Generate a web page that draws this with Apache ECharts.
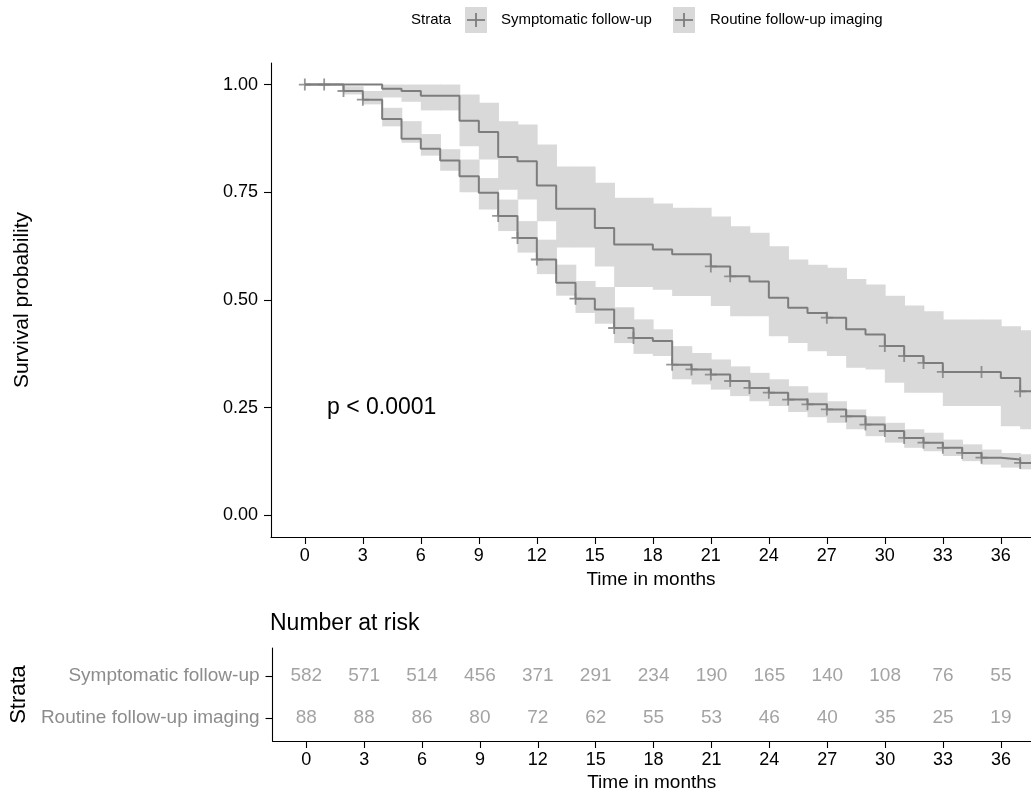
<!DOCTYPE html>
<html>
<head>
<meta charset="utf-8">
<script src="https://cdn.jsdelivr.net/npm/echarts@6/dist/echarts.min.js"></script>
<style>
html,body{margin:0;padding:0;background:#fff;}
#chart{width:1031px;height:801px;}
</style>
</head>
<body>
<div id="chart"></div>
<script>
// ---------------- data ----------------
const months = [0,1,2,3,4,5,6,7,8,9,10,11,12,13,14,15,16,17,18,19,20,21,22,23,24,25,26,27,28,29,30,31,32,33,34,35,36,37];
const followUpEnd = 38;

const survSymptomatic = [1.000,1.000,0.985,0.965,0.920,0.874,0.851,0.824,0.787,0.749,0.695,0.644,0.594,0.540,0.503,0.478,0.435,0.412,0.405,0.350,0.339,0.327,0.312,0.296,0.285,0.269,0.258,0.246,0.230,0.211,0.196,0.180,0.169,0.157,0.145,0.134,0.130,0.122];
const lowSymptomatic  = [1.000,1.000,0.977,0.954,0.903,0.865,0.835,0.800,0.750,0.710,0.660,0.610,0.560,0.510,0.470,0.445,0.400,0.375,0.370,0.316,0.304,0.292,0.277,0.265,0.254,0.240,0.228,0.215,0.200,0.184,0.169,0.157,0.149,0.138,0.126,0.118,0.111,0.107];
const highSymptomatic = [1.000,1.000,0.996,0.985,0.946,0.915,0.885,0.850,0.826,0.783,0.733,0.683,0.640,0.582,0.544,0.530,0.483,0.455,0.432,0.393,0.377,0.362,0.346,0.331,0.316,0.300,0.285,0.265,0.246,0.230,0.215,0.200,0.192,0.176,0.165,0.153,0.145,0.142];

const survRoutine = [1.000,1.000,1.000,1.000,0.990,0.985,0.974,0.974,0.916,0.890,0.832,0.822,0.766,0.712,0.712,0.667,0.629,0.629,0.617,0.606,0.606,0.578,0.555,0.543,0.505,0.482,0.470,0.459,0.432,0.420,0.393,0.370,0.354,0.333,0.333,0.333,0.319,0.288];
const lowRoutine  = [1.000,1.000,1.000,1.000,0.970,0.960,0.940,0.940,0.857,0.826,0.756,0.733,0.683,0.622,0.622,0.578,0.530,0.530,0.524,0.509,0.509,0.486,0.462,0.462,0.416,0.400,0.381,0.370,0.343,0.339,0.308,0.285,0.285,0.254,0.254,0.254,0.207,0.200];
const highRoutine = [1.000,1.000,1.000,1.000,1.000,1.000,1.000,1.000,0.977,0.958,0.915,0.907,0.861,0.810,0.810,0.772,0.737,0.737,0.724,0.714,0.714,0.694,0.671,0.656,0.625,0.594,0.582,0.575,0.549,0.536,0.510,0.487,0.474,0.455,0.455,0.455,0.439,0.430];

const censorSymptomatic = [1,2,3,10,11,12,14,16,17,19,20,21,22,23,24,25,26,27,28,29,30,31,32,33,34,35,37];
const censorRoutine = [0,21,22,27,30,31,32,33,35,37];

const strataNames = ['Symptomatic follow-up','Routine follow-up imaging'];
const riskTimes = [0,3,6,9,12,15,18,21,24,27,30,33,36];
const riskSymptomatic = [582,571,514,456,371,291,234,190,165,140,108,76,55];
const riskRoutine = [88,88,86,80,72,62,55,53,46,40,35,25,19];

const xTicks = [0,3,6,9,12,15,18,21,24,27,30,33,36];
const yTicks = [0,0.25,0.5,0.75,1];
const pText = 'p < 0.0001';

// ---------------- helpers ----------------
const FONT = 'Liberation Sans, Arial, Helvetica, sans-serif';
const LINE = '#7d7d7d';
const BAND = '#d9d9d9';
const PLUS = 'path://M0,5.1h12v1.8h-12z M5.1,0h1.8v12h-1.8z';

function stepData(surv){
  const d = months.map((t,i)=>[t, surv[i]]);
  d.push([followUpEnd, surv[surv.length-1]]);
  return d;
}
function bandData(lo, hi){
  const d = [];
  for (let i=0;i<months.length;i++){
    const t1 = i+1<months.length ? months[i+1] : followUpEnd;
    if (hi[i] > lo[i]) d.push([months[i], t1, lo[i], hi[i]]);
  }
  return d;
}
function censorData(times, surv){
  return times.map(t => [t, surv[months.indexOf(t)]]);
}
function renderBand(params, api){
  const p1 = api.coord([api.value(0), api.value(3)]);
  const p2 = api.coord([api.value(1), api.value(2)]);
  const rect = echarts.graphic.clipRectByRect(
    {x:p1[0], y:p1[1], width:p2[0]-p1[0]+0.8, height:p2[1]-p1[1]},
    {x:params.coordSys.x, y:params.coordSys.y, width:params.coordSys.width, height:params.coordSys.height});
  return rect && {type:'rect', shape:rect, style:{fill:BAND}};
}

const xMin = -1.75, xMax = 37.56;

const chart = echarts.init(document.getElementById('chart'), null, {renderer:'canvas'});
const axisLineStyle = {color:'#000', width:1.1};

function xAxisDef(idx){
  return {gridIndex:idx, type:'value', min:xMin, max:xMax,
    axisLine:{show:true, onZero:false, lineStyle:axisLineStyle}, splitLine:{show:false},
    axisTick:{show:true, customValues:xTicks, length:7, lineStyle:axisLineStyle},
    axisLabel:{customValues:xTicks, color:'#000', fontSize:18, margin:10, fontFamily:FONT},
    name:'Time in months', nameLocation:'middle', nameGap:32,
    nameTextStyle:{color:'#000', fontSize:19, fontFamily:FONT}};
}

const option = {
  animation:false,
  backgroundColor:'#fff',
  textStyle:{fontFamily:FONT},
  grid:[
    {left:271, width:760, top:63, height:474, containLabel:false},
    {left:271, width:760, top:648, height:93, containLabel:false}
  ],
  xAxis:[ xAxisDef(0), xAxisDef(1) ],
  yAxis:[
    {gridIndex:0, type:'value', min:-0.05, max:1.05,
     axisLine:{show:true, onZero:false, lineStyle:axisLineStyle}, splitLine:{show:false},
     axisTick:{show:true, customValues:yTicks, length:7, lineStyle:axisLineStyle},
     axisLabel:{customValues:yTicks, color:'#000', fontSize:18, margin:13, fontFamily:FONT,
       formatter:v=>Number(v).toFixed(2)},
     name:'Survival probability', nameLocation:'middle', nameGap:238, nameRotate:90,
     nameTextStyle:{color:'#000', fontSize:21, fontFamily:FONT}},
    {gridIndex:1, type:'value', min:-0.548, max:1.667,
     axisLine:{show:true, onZero:false, lineStyle:axisLineStyle}, splitLine:{show:false},
     axisTick:{show:true, customValues:[0,1], length:7, lineStyle:axisLineStyle},
     axisLabel:{customValues:[0,1], color:'#8c8c8c', fontSize:19, margin:13, fontFamily:FONT,
       formatter:v=> Math.round(v)===1 ? strataNames[0] : strataNames[1]},
     name:'Strata', nameLocation:'middle', nameGap:238, nameRotate:90,
     nameTextStyle:{color:'#000', fontSize:22, fontFamily:FONT}}
  ],
  series:[
    {type:'custom', name:'bandSym', xAxisIndex:0, yAxisIndex:0, renderItem:renderBand,
     data:bandData(lowSymptomatic, highSymptomatic), z:1, silent:true},
    {type:'custom', name:'bandRout', xAxisIndex:0, yAxisIndex:0, renderItem:renderBand,
     data:bandData(lowRoutine, highRoutine), z:1, silent:true},
    {type:'line', name:strataNames[0], xAxisIndex:0, yAxisIndex:0, step:'end', showSymbol:false,
     data:stepData(survSymptomatic), lineStyle:{color:LINE, width:2}, clip:true, z:3},
    {type:'line', name:strataNames[1], xAxisIndex:0, yAxisIndex:0, step:'end', showSymbol:false,
     data:stepData(survRoutine), lineStyle:{color:LINE, width:2}, clip:true, z:3},
    {type:'scatter', xAxisIndex:0, yAxisIndex:0, symbol:PLUS, symbolSize:12,
     itemStyle:{color:LINE}, data:censorData(censorSymptomatic, survSymptomatic), z:4},
    {type:'scatter', xAxisIndex:0, yAxisIndex:0, symbol:PLUS, symbolSize:12,
     itemStyle:{color:LINE}, data:censorData(censorRoutine, survRoutine), z:4},
    {type:'scatter', xAxisIndex:1, yAxisIndex:1, symbolSize:0,
     data:riskTimes.map((t,i)=>[t,1,riskSymptomatic[i]]),
     label:{show:true, position:'inside', formatter:p=>String(p.value[2]), color:'#8c8c8c', fontSize:19, fontFamily:FONT}},
    {type:'scatter', xAxisIndex:1, yAxisIndex:1, symbolSize:0,
     data:riskTimes.map((t,i)=>[t,0,riskRoutine[i]]),
     label:{show:true, position:'inside', formatter:p=>String(p.value[2]), color:'#8c8c8c', fontSize:19, fontFamily:FONT}}
  ],
  graphic:[
    {type:'text', left:327, top:396, style:{text:pText, fill:'#000', font:'23px '+FONT}},
    {type:'text', left:270, top:612, style:{text:'Number at risk', fill:'#000', font:'23px '+FONT}},
    // legend
    {type:'text', left:411, top:12, style:{text:'Strata', fill:'#000', font:'15px '+FONT}},
    {type:'rect', shape:{x:465, y:7, width:22, height:26}, style:{fill:BAND}},
    {type:'line', shape:{x1:467, y1:20, x2:485, y2:20}, style:{stroke:LINE, lineWidth:1.8}},
    {type:'line', shape:{x1:476, y1:13, x2:476, y2:27}, style:{stroke:LINE, lineWidth:1.8}},
    {type:'text', left:501, top:12, style:{text:strataNames[0], fill:'#000', font:'15px '+FONT}},
    {type:'rect', shape:{x:673, y:7, width:22, height:26}, style:{fill:BAND}},
    {type:'line', shape:{x1:675, y1:20, x2:693, y2:20}, style:{stroke:LINE, lineWidth:1.8}},
    {type:'line', shape:{x1:684, y1:13, x2:684, y2:27}, style:{stroke:LINE, lineWidth:1.8}},
    {type:'text', left:710, top:12, style:{text:strataNames[1], fill:'#000', font:'15px '+FONT}}
  ]
};
chart.setOption(option);
</script>
</body>
</html>
